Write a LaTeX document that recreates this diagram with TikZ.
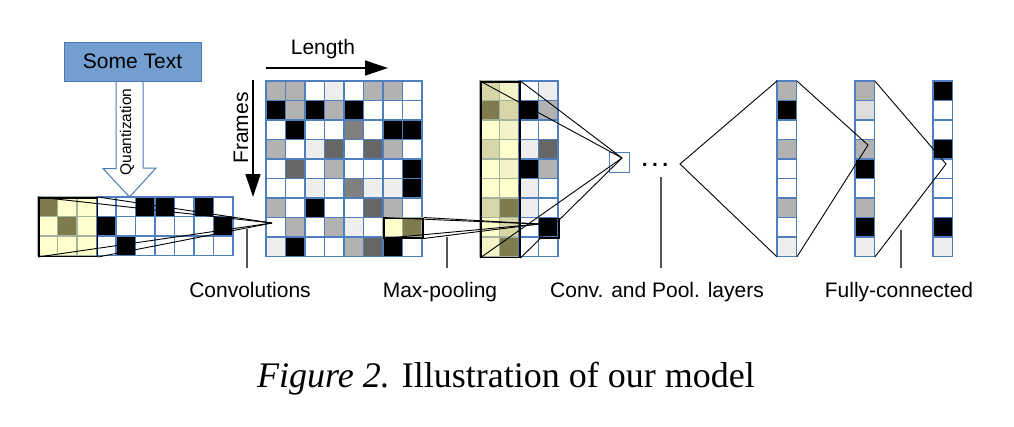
\documentclass[tikz,border=0pt]{standalone}
\usepackage{fontspec}
\setmainfont{Liberation Serif}
\setsansfont{Liberation Sans}
\usetikzlibrary{arrows.meta, positioning, calc, backgrounds}

\definecolor{gridblue}{HTML}{4F7FBC}
\definecolor{boxfill}{HTML}{729FCF}
\definecolor{boxline}{HTML}{4A78B2}
\definecolor{ygrid}{HTML}{A4B3A0}
\definecolor{ga}{HTML}{B2B2B2}
\definecolor{gm}{HTML}{808080}
\definecolor{gd}{HTML}{666666}
\definecolor{ge}{HTML}{EEEEEE}
\definecolor{gl}{HTML}{DDDDDD}
\definecolor{yl}{HTML}{FFFFCC}
\definecolor{ym}{HTML}{F4F2C7}
\definecolor{yt}{HTML}{D8D5A6}
\definecolor{yo}{HTML}{7F7B4C}
\definecolor{tickgray}{HTML}{555555}

\newcommand{\cellsz}{19.5}
\newcommand{\lblfont}{\fontsize{21}{25}\selectfont\sffamily}
% rows of coloured cells, top left corner at (#1,#2)
\newcommand{\cellgrid}[4]{%
  \foreach \rw [count=\ri from 0] in {#4}{%
    \foreach \cc [count=\ci from 0] in \rw
      \draw[#3, fill=\cc] ({#1+\ci*\cellsz},{#2+\ri*\cellsz}) rectangle ++(\cellsz,\cellsz);
  }%
}

\begin{document}
\begin{tikzpicture}[
        x=1pt, y=-1pt,
        cell/.style={draw=gridblue, line width=1.2pt},
        ycell/.style={draw=ygrid, line width=1.2pt},
        win/.style={draw=black, line width=1.5pt, inner sep=0pt, anchor=north west},
        colbox/.style={inner sep=0pt, anchor=north west, minimum width=19.5pt, minimum height=175.5pt},
        fan/.style={draw=black, line width=0.9pt},
        tick/.style={draw=tickgray, line width=1.1pt},
        lbl/.style={font=\lblfont, inner sep=0pt, anchor=base},
        tbox/.style={rectangle, draw=boxline, fill=boxfill, line width=1pt, minimum width=137pt, minimum height=39pt, font=\lblfont},
        quant/.style={draw=boxline, fill=white, line width=1pt, line join=miter},
        bigarr/.style={-{Triangle[length=23pt, width=15pt]}, line width=1.3pt}
    ]
    \useasboundingbox (0,0) rectangle (1014,426);

    % Input text and quantization
    \node[tbox] (txt) at (132.5,61.5) {Some Text};
    \coordinate (qtip) at (129.5,197);
    \begin{scope}[on background layer]
    \draw[quant] ([xshift=-16.5pt]txt.south) -- ++(0,87) -- ++(-13,0) -- (qtip)
        -- ++(26.5,-29) -- ++(-13,0) -- ([xshift=10.5pt]txt.south);
    \end{scope}
    \node[rotate=90, font=\fontsize{15.5}{18}\selectfont\sffamily, inner sep=0pt] (qlbl) at (127,132) {Quantization};

    % Quantized input
    \cellgrid{38}{197}{ycell}{{yo,yl,yl},{yl,yo,yl},{yl,yl,yl}}
    \cellgrid{96.5}{197}{cell}{{white,white,black,black,white,black,white},
        {black,white,white,white,white,white,black},
        {white,black,white,white,white,white,white}}
    \node[win, minimum width=58.5pt, minimum height=58.5pt] (filt) at (38,197) {};

    % Feature map after convolutions
    \cellgrid{266}{81}{cell}{{ga,ga,white,ge,white,ga,ga,white},
        {black,ga,black,ga,black,white,white,white},
        {white,black,white,white,gm,white,black,black},
        {ga,white,ge,gd,white,gd,ga,white},
        {white,gd,white,ga,white,white,white,black},
        {white,white,ge,white,gm,ge,ge,black},
        {ga,white,black,white,white,gd,ga,white},
        {white,ga,white,ga,ge,white,yl,yo},
        {ge,black,white,white,ga,gd,black,white}}
    \cellgrid{383}{217.5}{ycell}{{yl,yo}}
    \node[win, minimum width=39pt, minimum height=19.5pt] (pw) at (383,217.5) {};

    % Pooled map
    \cellgrid{480}{81}{ycell}{{yt,ym},{yo,yt},{yl,ym},{yt,yl},{yl,ym},{yl,yl},{yt,yo},{yl,yt},{ym,yo}}
    \cellgrid{519}{81}{cell}{{white,ge},{black,ga},{white,white},{ge,gd},{black,ga},
        {ge,white},{ge,white},{white,black},{white,white}}
    \node[win, minimum width=39pt, minimum height=175.5pt] (yb) at (480,81) {};
    \node[win, minimum width=19.5pt, minimum height=19.5pt] (pc) at (538.5,217.5) {};

    % Next layer unit
    \node[cell, fill=white, inner sep=0pt, anchor=north west, minimum size=19.5pt] (sq) at (609,152) {};
    \node[font=\lblfont\bfseries, inner sep=0pt, anchor=base] (dots) at (655,166) {.\hspace{4.5pt}.\hspace{4.5pt}.};

    % Columns
    \cellgrid{777}{81}{cell}{{ga},{black},{white},{ga},{white},{white},{ga},{white},{ge}}
    \cellgrid{855}{81}{cell}{{ga},{gl},{white},{ga},{black},{white},{ga},{black},{ge}}
    \cellgrid{933}{81}{cell}{{black},{white},{white},{black},{white},{white},{white},{black},{ge}}
    \node[colbox] (col1) at (777,81) {};
    \node[colbox] (col2) at (855,81) {};
    \node[colbox] (col3) at (933,81) {};

    % Fans
    \coordinate (cv1) at (272,223);
    \coordinate (cv2) at (539,224);
    \coordinate (cv3) at (622,158);
    \coordinate (cv4) at (680,164);
    \coordinate (cv5) at (868,145);
    \coordinate (cv6) at (946,164);
    \foreach \a in {north west, north east, south west, south east} {
        \draw[fan] (filt.\a) -- (cv1);
        \draw[fan] (pw.\a) -- (cv2);
        \draw[fan] (yb.\a) -- (cv3);
    }
    \draw[fan] (col1.north west) -- (cv4) -- (col1.south west);
    \draw[fan] (col1.north east) -- (cv5) -- (col1.south east);
    \draw[fan] (col2.north east) -- (cv6) -- (col2.south east);

    % Axes
    \coordinate (fr0) at (253,80);
    \coordinate (fr1) at (253,197);
    \draw[bigarr] (fr0) -- (fr1);
    \node[rotate=90, font=\lblfont, inner sep=0pt] (frames) at (241,128) {Frames};
    \coordinate (ln0) at (266,68);
    \coordinate (ln1) at (388,68);
    \draw[bigarr] (ln0) -- (ln1);
    \node[lbl] (length) at (323,54) {Length};

    % Labels
    \node[lbl] (lconv) at (250,297) {Convolutions};
    \node[lbl] (lpool) at (440,297) {Max-pooling};
    \node[lbl] (llay) at (657,297) {Conv. and Pool. layers};
    \node[lbl] (lfc) at (899,297) {Fully-connected};
    \coordinate (t1) at (247,229);
    \coordinate (t2) at (447,237);
    \coordinate (t3) at (661,177);
    \coordinate (t4) at (901,230);
    \foreach \t/\l in {t1/lconv, t2/lpool, t3/llay, t4/lfc}
        \draw[tick, shorten >=14pt] (\t) -- (\t |- \l.north);

    % Caption
    \node[font=\fontsize{36}{40}\selectfont, inner sep=0pt, anchor=base] (cap) at (506,387)
        {\textit{Figure 2.} Illustration of our model};
\end{tikzpicture}
\end{document}
